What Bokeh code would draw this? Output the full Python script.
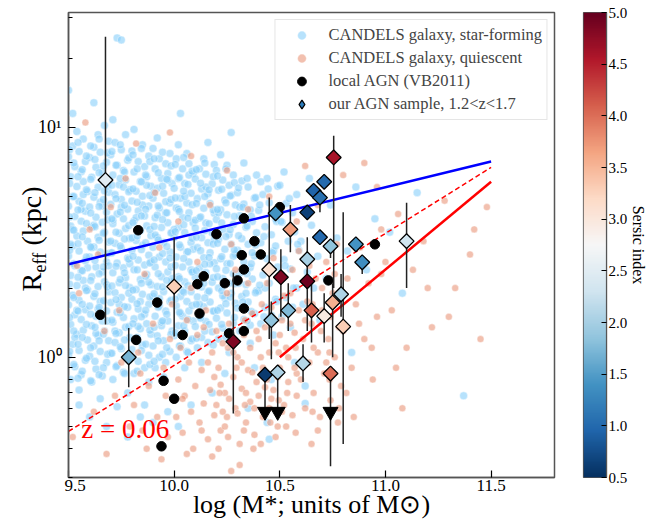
from math import pi
import numpy as np
from bokeh.plotting import figure
from bokeh.layouts import row
from bokeh.models import (ColumnDataSource, Range1d, FixedTicker, PrintfTickFormatter, CustomJSTickFormatter,
                          LinearColorMapper, LinearAxis, Label, Legend, LegendItem)
from bokeh.palettes import interp_palette
from bokeh.core.properties import value
from bokeh.embed import file_html
from bokeh.resources import INLINE

FONT = "Liberation Serif"

# ---------------- data ----------------
# CANDELS star-forming galaxies: (log M*, R_eff [kpc])
sf_points = [
 (9.51,0.80),(9.56,0.84),(9.53,0.91),(9.58,0.97),(9.50,1.02),(9.55,1.07),(9.52,1.14),(9.59,1.19),(9.54,1.26),(9.57,1.31),
 (9.51,1.39),(9.56,1.46),(9.53,1.53),(9.58,1.61),(9.50,1.69),(9.55,1.77),(9.52,1.86),(9.59,1.96),(9.54,2.05),(9.57,2.16),
 (9.51,2.27),(9.56,2.38),(9.53,2.5),(9.58,2.63),(9.50,2.76),(9.55,2.9),(9.52,3.05),(9.59,3.2),(9.54,3.37),(9.57,3.54),
 (9.51,3.72),(9.56,3.91),(9.53,4.1),(9.58,4.32),(9.50,4.54),(9.55,4.77),(9.52,5.0),(9.59,5.26),(9.54,5.53),(9.57,5.81),
 (9.51,6.1),(9.56,6.42),(9.53,6.75),(9.58,7.1),(9.50,7.45),(9.55,7.85),(9.52,8.3),(9.57,8.9),(9.54,9.6),(9.50,14.5),
 (9.53,1.22),(9.58,2.0),(9.51,3.1),(9.56,4.4),(9.54,1.6),(9.59,2.45),(9.52,3.6),(9.57,5.1),(9.55,0.72),(9.52,11.5),
 (9.61,0.78),(9.66,0.83),(9.63,0.89),(9.68,0.95),(9.60,1.01),(9.65,1.06),(9.62,1.12),(9.69,1.18),(9.64,1.24),(9.67,1.3),
 (9.61,1.37),(9.66,1.44),(9.63,1.51),(9.68,1.59),(9.60,1.67),(9.65,1.75),(9.62,1.84),(9.69,1.93),(9.64,2.03),(9.67,2.13),
 (9.61,2.24),(9.66,2.35),(9.63,2.47),(9.68,2.6),(9.60,2.73),(9.65,2.87),(9.62,3.02),(9.69,3.17),(9.64,3.33),(9.67,3.5),
 (9.61,3.68),(9.66,3.87),(9.63,4.07),(9.68,4.28),(9.60,4.5),(9.65,4.73),(9.62,4.97),(9.69,5.22),(9.64,5.49),(9.67,5.77),
 (9.61,6.07),(9.66,6.38),(9.63,6.7),(9.68,7.05),(9.60,7.4),(9.65,7.8),(9.62,8.2),(9.69,8.7),(9.64,9.3),(9.67,10.2),
 (9.63,1.27),(9.68,2.07),(9.61,3.0),(9.66,4.55),(9.64,1.62),(9.69,2.5),(9.62,3.75),(9.67,5.3),(9.65,0.66),(9.62,12.8),
 (9.71,0.8),(9.76,0.86),(9.73,0.92),(9.78,0.98),(9.70,1.04),(9.75,1.09),(9.72,1.16),(9.79,1.22),(9.74,1.28),(9.77,1.35),
 (9.71,1.42),(9.76,1.49),(9.73,1.57),(9.78,1.65),(9.70,1.73),(9.75,1.82),(9.72,1.91),(9.79,2.01),(9.74,2.11),(9.77,2.22),
 (9.71,2.33),(9.76,2.45),(9.73,2.57),(9.78,2.7),(9.70,2.84),(9.75,2.98),(9.72,3.13),(9.79,3.29),(9.74,3.46),(9.77,3.63),
 (9.71,3.81),(9.76,4.0),(9.73,4.2),(9.78,4.41),(9.70,4.63),(9.75,4.86),(9.72,5.1),(9.79,5.36),(9.74,5.63),(9.77,5.91),
 (9.71,6.2),(9.76,6.5),(9.73,6.85),(9.78,7.2),(9.70,7.6),(9.75,8.0),(9.72,8.6),(9.77,9.3),(9.73,24.5),(9.75,24.0),
 (9.72,1.3),(9.77,2.05),(9.70,3.2),(9.75,4.5),(9.74,1.7),(9.79,2.55),(9.71,3.95),(9.76,5.5),(9.78,0.7),(9.71,10.8),
 (9.81,0.85),(9.86,0.9),(9.83,0.96),(9.88,1.02),(9.80,1.08),(9.85,1.13),(9.82,1.2),(9.89,1.26),(9.84,1.33),(9.87,1.4),
 (9.81,1.47),(9.86,1.54),(9.83,1.62),(9.88,1.7),(9.80,1.79),(9.85,1.88),(9.82,1.97),(9.89,2.07),(9.84,2.18),(9.87,2.29),
 (9.81,2.4),(9.86,2.52),(9.83,2.65),(9.88,2.78),(9.80,2.92),(9.85,3.07),(9.82,3.22),(9.89,3.38),(9.84,3.55),(9.87,3.73),
 (9.81,3.92),(9.86,4.12),(9.83,4.33),(9.88,4.55),(9.80,4.78),(9.85,5.02),(9.82,5.27),(9.89,5.54),(9.84,5.82),(9.87,6.1),
 (9.81,6.4),(9.86,6.75),(9.83,7.1),(9.88,7.5),(9.80,7.9),(9.85,8.4),(9.83,1.36),(9.88,2.12),(9.80,3.3),(9.85,4.6),
 (9.84,1.75),(9.89,2.6),(9.82,4.05),(9.87,5.6),(9.86,0.62),(9.81,9.8),(9.88,0.78),(9.84,0.55),
 (9.91,0.9),(9.96,0.95),(9.93,1.0),(9.98,1.06),(9.90,1.12),(9.95,1.18),(9.92,1.24),(9.99,1.3),(9.94,1.37),(9.97,1.44),
 (9.91,1.51),(9.96,1.59),(9.93,1.67),(9.98,1.75),(9.90,1.84),(9.95,1.93),(9.92,2.03),(9.99,2.13),(9.94,2.24),(9.97,2.35),
 (9.91,2.47),(9.96,2.6),(9.93,2.73),(9.98,2.87),(9.90,3.01),(9.95,3.16),(9.92,3.32),(9.99,3.49),(9.94,3.67),(9.97,3.85),
 (9.91,4.05),(9.96,4.25),(9.93,4.46),(9.98,4.69),(9.90,4.92),(9.95,5.17),(9.92,5.43),(9.99,5.7),(9.94,6.0),(9.97,6.3),
 (9.91,6.6),(9.96,6.95),(9.93,7.3),(9.98,7.7),(9.90,8.1),(9.94,1.42),(9.99,2.2),(9.91,3.4),(9.96,4.75),(9.93,1.8),
 (9.98,2.7),(9.92,4.15),(9.97,5.9),(9.95,0.82),(9.92,9.0),(9.97,0.58),
 (10.01,1.0),(10.06,1.06),(10.03,1.12),(10.08,1.18),(10.00,1.24),(10.05,1.3),(10.02,1.37),(10.09,1.44),(10.04,1.51),(10.07,1.59),
 (10.01,1.67),(10.06,1.75),(10.03,1.84),(10.08,1.93),(10.00,2.03),(10.05,2.13),(10.02,2.24),(10.09,2.35),(10.04,2.47),(10.07,2.6),
 (10.01,2.73),(10.06,2.87),(10.03,3.01),(10.08,3.16),(10.00,3.32),(10.05,3.49),(10.02,3.67),(10.09,3.85),(10.04,4.05),(10.07,4.25),
 (10.01,4.46),(10.06,4.69),(10.03,4.92),(10.08,5.17),(10.00,5.43),(10.05,5.7),(10.02,6.0),(10.09,6.3),(10.04,6.6),(10.07,6.95),
 (10.01,7.3),(10.06,7.7),(10.03,1.55),(10.08,2.4),(10.00,3.6),(10.05,5.0),(10.04,1.95),(10.09,2.95),(10.02,4.4),(10.07,6.2),
 (10.05,0.9),(10.02,8.4),(10.08,0.62),(10.03,11.5),
 (10.11,1.1),(10.16,1.16),(10.13,1.22),(10.18,1.29),(10.10,1.36),(10.15,1.43),(10.12,1.5),(10.19,1.58),(10.14,1.66),(10.17,1.74),
 (10.11,1.83),(10.16,1.92),(10.13,2.02),(10.18,2.12),(10.10,2.23),(10.15,2.34),(10.12,2.46),(10.19,2.58),(10.14,2.71),(10.17,2.85),
 (10.11,3.0),(10.16,3.15),(10.13,3.31),(10.18,3.48),(10.10,3.65),(10.15,3.84),(10.12,4.03),(10.19,4.23),(10.14,4.45),(10.17,4.67),
 (10.11,4.9),(10.16,5.15),(10.13,5.4),(10.18,5.68),(10.10,5.96),(10.15,6.26),(10.12,6.6),(10.19,6.9),(10.14,7.3),(10.12,1.7),
 (10.17,2.55),(10.10,3.95),(10.15,5.5),(10.14,2.1),(10.19,3.25),(10.13,0.95),(10.18,0.7),(10.16,8.6),
 (10.21,1.2),(10.26,1.27),(10.23,1.34),(10.28,1.41),(10.20,1.48),(10.25,1.56),(10.22,1.64),(10.29,1.72),(10.24,1.81),(10.27,1.9),
 (10.21,2.0),(10.26,2.1),(10.23,2.2),(10.28,2.31),(10.20,2.43),(10.25,2.55),(10.22,2.68),(10.29,2.81),(10.24,2.95),(10.27,3.1),
 (10.21,3.26),(10.26,3.42),(10.23,3.6),(10.28,3.78),(10.20,3.97),(10.25,4.17),(10.22,4.38),(10.29,4.6),(10.24,4.83),(10.27,5.07),
 (10.21,5.33),(10.26,5.6),(10.23,5.9),(10.28,6.2),(10.20,6.5),(10.25,6.85),(10.23,1.85),(10.28,2.75),(10.21,4.25),(10.26,1.05),
 (10.24,0.85),(10.22,7.6),(10.27,9.5),
 (10.31,1.3),(10.36,1.38),(10.33,1.46),(10.38,1.55),(10.30,1.64),(10.35,1.74),(10.32,1.84),(10.39,1.95),(10.34,2.07),(10.37,2.19),
 (10.31,2.32),(10.36,2.46),(10.33,2.6),(10.38,2.76),(10.30,2.92),(10.35,3.1),(10.32,3.28),(10.39,3.48),(10.34,3.68),(10.37,3.9),
 (10.31,4.13),(10.36,4.38),(10.33,4.64),(10.38,4.92),(10.30,5.2),(10.35,5.5),(10.32,5.85),(10.39,6.2),(10.34,1.9),(10.37,2.85),
 (10.31,4.5),(10.36,1.15),(10.33,7.0),(10.38,0.9),
 (10.41,1.4),(10.46,1.52),(10.43,1.65),(10.48,1.79),(10.40,1.94),(10.45,2.1),(10.42,2.28),(10.49,2.47),(10.44,2.68),(10.47,2.9),
 (10.41,3.15),(10.46,3.41),(10.43,3.7),(10.48,4.0),(10.40,4.35),(10.45,4.7),(10.42,5.1),(10.49,5.55),(10.44,6.0),(10.47,1.25),
 (10.43,2.0),(10.48,3.05),(10.41,5.8),(10.46,0.8),(10.44,0.52),
 (10.51,1.5),(10.56,1.65),(10.53,1.82),(10.58,2.0),(10.50,2.2),(10.55,2.42),(10.52,2.66),(10.59,2.92),(10.54,3.2),(10.57,3.52),
 (10.51,3.87),(10.56,4.25),(10.53,4.67),(10.58,5.1),(10.50,5.6),(10.55,1.35),(10.52,6.4),(10.57,0.95),
 (10.61,1.7),(10.66,2.0),(10.63,2.35),(10.68,2.75),(10.60,3.2),(10.65,3.75),(10.62,4.4),(10.67,5.1),(10.64,6.0),(10.69,1.45),(10.62,0.75),
 (10.72,2.2),(10.77,3.3),(10.74,4.6),(10.79,1.8),(10.82,2.9),(10.86,5.5),(10.91,2.4),(10.95,4.0),(11.02,3.5),(11.08,1.9),
 (11.15,5.2),(11.37,0.68),(10.84,1.05),
 (9.60,0.55),(9.68,0.5),(9.78,0.45),(9.90,0.52),(10.02,0.5),(10.45,0.44),(10.35,0.6),(10.62,0.63),(9.73,0.61),(9.55,0.62),
]
sf_points_more = [
 (9.545,8.6),(9.505,8.0),(9.585,7.5),(9.525,7.0),(9.565,6.55),(9.545,6.1),(9.505,5.7),(9.585,5.35),(9.525,5.0),(9.565,4.68),
 (9.545,4.37),(9.505,4.08),(9.585,3.82),(9.525,3.57),(9.565,3.34),(9.545,3.12),(9.505,2.92),(9.585,2.73),(9.525,2.55),(9.565,2.38),
 (9.545,2.23),(9.505,2.08),(9.585,1.95),(9.525,1.82),(9.565,1.7),(9.545,1.59),(9.505,1.49),(9.585,1.39),(9.525,1.3),(9.565,1.22),
 (9.545,1.14),(9.505,1.06),(9.585,0.99),(9.525,0.93),(9.565,0.87),(9.545,0.81),
 (9.645,8.9),(9.605,8.3),(9.685,7.75),(9.625,7.25),(9.665,6.8),(9.645,6.35),(9.605,5.95),(9.685,5.55),(9.625,5.2),(9.665,4.85),
 (9.645,4.53),(9.605,4.24),(9.685,3.96),(9.625,3.7),(9.665,3.46),(9.645,3.23),(9.605,3.02),(9.685,2.82),(9.625,2.64),(9.665,2.47),
 (9.645,2.31),(9.605,2.16),(9.685,2.02),(9.625,1.89),(9.665,1.76),(9.645,1.65),(9.605,1.54),(9.685,1.44),(9.625,1.35),(9.665,1.26),
 (9.645,1.18),(9.605,1.1),(9.685,1.03),(9.625,0.96),(9.665,0.9),(9.645,0.84),(9.605,0.79),
 (9.745,8.4),(9.705,7.85),(9.785,7.35),(9.725,6.85),(9.765,6.4),(9.745,6.0),(9.705,5.6),(9.785,5.25),(9.725,4.9),(9.765,4.58),
 (9.745,4.28),(9.705,4.0),(9.785,3.74),(9.725,3.5),(9.765,3.27),(9.745,3.05),(9.705,2.85),(9.785,2.67),(9.725,2.49),(9.765,2.33),
 (9.745,2.18),(9.705,2.04),(9.785,1.9),(9.725,1.78),(9.765,1.66),(9.745,1.56),(9.705,1.45),(9.785,1.36),(9.725,1.27),(9.765,1.19),
 (9.745,1.11),(9.705,1.04),(9.785,0.97),(9.725,0.91),(9.765,0.85),
 (9.845,8.1),(9.805,7.6),(9.885,7.1),(9.825,6.6),(9.865,6.2),(9.845,5.8),(9.805,5.4),(9.885,5.05),(9.825,4.72),(9.865,4.41),
 (9.845,4.12),(9.805,3.85),(9.885,3.6),(9.825,3.37),(9.865,3.15),(9.845,2.94),(9.805,2.75),(9.885,2.57),(9.825,2.4),(9.865,2.25),
 (9.845,2.1),(9.805,1.96),(9.885,1.83),(9.825,1.71),(9.865,1.6),(9.845,1.5),(9.805,1.4),(9.885,1.31),(9.825,1.22),(9.865,1.14),
 (9.845,1.07),(9.805,1.0),(9.885,0.93),(9.825,0.87),
 (9.945,7.8),(9.905,7.3),(9.985,6.8),(9.925,6.35),(9.965,5.95),(9.945,5.55),(9.905,5.2),(9.985,4.85),(9.925,4.55),(9.965,4.25),
 (9.945,3.97),(9.905,3.71),(9.985,3.47),(9.925,3.24),(9.965,3.03),(9.945,2.83),(9.905,2.65),(9.985,2.47),(9.925,2.31),(9.965,2.16),
 (9.945,2.02),(9.905,1.89),(9.985,1.77),(9.925,1.65),(9.965,1.54),(9.945,1.44),(9.905,1.35),(9.985,1.26),(9.925,1.18),(9.965,1.1),
 (9.945,1.03),(9.905,0.96),
 (10.045,7.4),(10.005,6.9),(10.085,6.45),(10.025,6.05),(10.065,5.65),(10.045,5.28),(10.005,4.93),(10.085,4.61),(10.025,4.31),(10.065,4.03),
 (10.045,3.77),(10.005,3.52),(10.085,3.29),(10.025,3.08),(10.065,2.88),(10.045,2.69),(10.005,2.51),(10.085,2.35),(10.025,2.2),(10.065,2.05),
 (10.045,1.92),(10.005,1.79),(10.085,1.68),(10.025,1.57),(10.065,1.46),(10.045,1.37),(10.005,1.28),(10.085,1.2),(10.025,1.12),(10.065,1.05),
 (10.145,7.0),(10.105,6.55),(10.185,6.1),(10.125,5.72),(10.165,5.35),(10.145,5.0),(10.105,4.67),(10.185,4.37),(10.125,4.08),(10.165,3.81),
 (10.145,3.56),(10.105,3.33),(10.185,3.11),(10.125,2.91),(10.165,2.72),(10.145,2.54),(10.105,2.38),(10.185,2.22),(10.125,2.08),(10.165,1.94),
 (10.145,1.81),(10.105,1.7),(10.185,1.59),(10.125,1.48),(10.165,1.39),(10.145,1.3),(10.105,1.21),(10.185,1.13),
 (10.245,6.6),(10.205,6.15),(10.285,5.75),(10.225,5.38),(10.265,5.03),(10.245,4.7),(10.205,4.39),(10.285,4.1),(10.225,3.84),(10.265,3.59),
 (10.245,3.35),(10.205,3.13),(10.285,2.93),(10.225,2.74),(10.265,2.56),(10.245,2.39),(10.205,2.24),(10.285,2.09),(10.225,1.95),(10.265,1.83),
 (10.245,1.71),(10.205,1.6),(10.285,1.49),(10.225,1.39),(10.265,1.3),(10.245,1.22),
 (10.345,6.0),(10.305,5.45),(10.385,4.95),(10.325,4.5),(10.365,4.1),(10.345,3.72),(10.305,3.38),(10.385,3.08),(10.325,2.8),(10.365,2.55),
 (10.345,2.31),(10.305,2.1),(10.385,1.91),(10.325,1.74),(10.365,1.58),(10.345,1.44),
 (10.445,5.4),(10.405,4.6),(10.485,3.9),(10.425,3.35),(10.465,2.85),(10.445,2.42),(10.405,2.06),(10.485,1.75),(10.425,1.5),
 (10.545,4.9),(10.505,3.9),(10.585,3.1),(10.525,2.5),(10.565,2.0),(10.545,1.6),
]

# CANDELS quiescent galaxies: (log M*, R_eff [kpc])
q_points = [
 (9.52,0.45),(9.55,1.9),(9.58,10.5),(9.62,0.58),(9.64,2.8),(9.67,1.3),(9.70,4.5),(9.72,0.68),(9.75,0.95),(9.77,6.0),
 (9.79,0.5),(9.60,3.6),(9.68,0.38),(9.54,2.5),(9.74,1.6),
 (9.81,0.62),(9.83,1.05),(9.85,0.48),(9.86,2.3),(9.88,0.75),(9.90,1.4),(9.92,0.55),(9.93,3.0),(9.95,0.9),(9.97,0.45),
 (9.98,1.2),(9.84,0.85),(9.91,5.2),(9.96,0.68),(9.99,1.7),(9.87,0.4),(9.94,0.36),(9.82,8.5),
 (10.01,0.55),(10.02,0.8),(10.03,1.1),(10.04,0.47),(10.05,0.68),(10.06,1.45),(10.07,0.95),(10.08,0.58),(10.09,0.4),(10.10,0.75),
 (10.11,1.25),(10.12,0.52),(10.13,0.88),(10.14,0.63),(10.15,1.6),(10.16,0.44),(10.17,0.72),(10.18,1.05),(10.19,0.56),(10.11,2.6),
 (10.02,3.9),(10.16,0.95),(10.06,0.38),(10.19,0.82),(10.13,0.48),(10.08,2.0),(10.17,4.6),(10.04,0.66),(10.14,1.35),(10.18,0.37),
 (10.20,0.62),(10.21,0.9),(10.22,0.48),(10.23,1.15),(10.24,0.7),(10.25,0.55),(10.26,1.4),(10.27,0.32),(10.28,0.82),(10.29,0.6),
 (10.30,1.0),(10.31,0.42),(10.32,0.73),(10.33,1.25),(10.34,0.52),(10.35,0.88),(10.36,0.64),(10.37,1.55),(10.38,0.46),(10.39,0.78),
 (10.20,1.3),(10.22,0.76),(10.24,0.5),(10.26,0.66),(10.28,1.05),(10.30,0.57),(10.32,0.95),(10.34,0.7),(10.36,1.1),(10.38,0.6),
 (10.21,0.4),(10.25,1.9),(10.29,2.4),(10.33,0.48),(10.35,2.1),(10.37,0.86),(10.39,1.3),(10.23,0.58),(10.31,0.34),(10.27,3.1),
 (10.40,0.68),(10.41,1.0),(10.42,0.55),(10.43,1.35),(10.44,0.8),(10.45,0.6),(10.46,1.65),(10.47,0.72),(10.48,1.15),(10.49,0.5),
 (10.50,0.9),(10.51,1.45),(10.52,0.62),(10.53,1.1),(10.54,0.78),(10.55,1.9),(10.56,0.56),(10.57,1.28),(10.58,0.85),(10.59,1.6),
 (10.40,1.2),(10.42,0.9),(10.44,2.1),(10.46,0.66),(10.48,0.45),(10.50,1.25),(10.52,1.85),(10.54,1.0),(10.56,2.4),(10.58,0.68),
 (10.41,0.42),(10.43,0.74),(10.45,1.05),(10.47,2.7),(10.49,0.82),(10.51,0.58),(10.53,0.5),(10.55,1.4),(10.57,0.9),(10.59,2.9),
 (10.60,0.8),(10.61,1.2),(10.62,0.6),(10.63,1.75),(10.64,0.95),(10.65,1.4),(10.66,0.7),(10.67,2.2),(10.68,1.05),(10.69,0.55),
 (10.70,1.6),(10.71,0.85),(10.72,2.6),(10.73,1.2),(10.74,0.65),(10.75,1.9),(10.76,1.0),(10.77,3.1),(10.78,1.35),(10.79,0.75),
 (10.62,1.45),(10.64,2.5),(10.66,1.1),(10.68,0.48),(10.70,2.0),(10.72,0.95),(10.74,1.5),(10.76,2.3),(10.78,0.6),(10.65,0.42),
 (10.80,1.3),(10.82,2.2),(10.84,0.9),(10.86,1.7),(10.88,3.0),(10.90,1.2),(10.92,2.1),(10.94,0.8),(10.96,1.5),(10.98,3.6),
 (11.00,2.6),(11.03,1.6),(11.06,4.2),(11.10,1.1),(11.13,2.4),(11.18,3.2),(11.22,1.35),(11.28,4.8),(11.33,2.0),(11.40,2.8),
 (11.48,4.5),(11.45,1.2),(10.85,0.55),(11.08,0.6),(10.96,5.5),
 (10.35,4.4),(10.45,5.0),(10.58,3.9),(10.68,4.6),(10.80,6.2),(10.62,6.8),(10.90,7.0),(10.25,6.5),(10.08,7.5),(9.98,9.5),
 (10.215,0.7),(10.255,0.45),(10.295,0.9),(10.335,0.62),(10.375,0.4),(10.415,0.85),(10.455,0.52),(10.495,1.05),(10.535,0.7),(10.575,0.47),
 (10.615,0.95),(10.655,0.58),(10.695,1.3),(10.735,0.8),(10.775,0.52),(10.255,1.1),(10.335,1.45),(10.415,1.7),(10.495,0.65),(10.575,1.1),
 (10.655,1.7),(10.735,1.05),(10.815,0.7),(10.875,1.4),(10.935,1.1),(11.05,0.9),(11.20,2.0),(11.30,1.5),(11.42,3.6),(10.98,2.3),
]

# local AGN (VB2011)
local_mass = [9.65, 9.83, 9.82, 9.92, 9.95, 10.00, 10.04, 10.11, 10.14, 10.12, 10.20, 10.24, 10.30, 10.26, 9.94,
              10.50, 10.33, 10.38, 10.32, 10.41, 10.33, 10.73, 10.95, 10.33, 10.33]
local_reff = [1.53, 3.57, 1.19, 1.73, 0.79, 0.66, 1.25, 2.08, 2.25, 1.55, 3.43, 2.10, 2.16, 1.27, 0.41,
              4.50, 4.02, 3.20, 2.78, 2.80, 2.41, 2.16, 3.10, 1.63, 1.30]

# our AGN sample, 1.2<z<1.7
agn_mass = [9.675, 9.785, 10.00, 10.28, 10.755, 10.71, 10.66, 10.69, 10.63, 10.48,
            10.55, 10.69, 10.74, 10.86, 10.89, 11.10, 10.45, 10.505, 10.63, 10.63,
            10.79, 10.46, 10.54, 10.65, 10.71, 10.75, 10.80, 10.43, 10.49, 10.61, 10.74]
agn_reff = [5.9, 1.0, 2.03, 1.17, 7.4, 5.8, 5.3, 4.95, 4.27, 4.23,
            3.6, 3.33, 3.04, 3.1, 2.59, 3.2, 2.41, 2.23, 2.67, 2.14,
            1.88, 1.45, 1.6, 1.6, 1.51, 1.73, 1.36, 0.84, 0.86, 0.94, 0.85]
agn_sersic = [2.5, 1.7, 3.3, 4.85, 4.6, 1.0, 0.95, 1.05, 0.65, 1.4,
              3.7, 1.0, 1.85, 1.4, 1.35, 2.3, 3.1, 4.85, 2.0, 4.95,
              2.05, 1.85, 1.75, 4.1, 2.95, 3.55, 3.3, 0.6, 2.05, 2.1, 4.0]
agn_err_lo = [1.39, 0.74, 1.23, 0.57, 2.0, 5.8, 5.3, 4.27, 4.27, 4.23,
              2.86, 3.33, 2.7, 3.1, 2.3, 2.0, 1.2, 1.5, 2.03, 1.3,
              1.5, 0.98, 1.3, 1.16, 1.16, 1.0, 0.42, 0.58, 0.58, 0.78, 0.336]
agn_err_hi = [24.8, 1.34, 3.32, 2.34, 9.2, 5.8, 5.3, 4.95, 4.27, 4.23,
              4.6, 3.33, 3.04, 3.1, 2.75, 4.7, 4.96, 2.95, 3.33, 2.4,
              2.3, 1.75, 2.1, 2.1, 1.9, 2.1, 4.27, 0.84, 0.86, 1.14, 0.85]

# upper limits of the sample
lim_mass = [10.43, 10.49, 10.74]
lim_reff = [0.58, 0.58, 0.58]

# size-mass relations
fit_sf_mass, fit_sf_reff = [9.5, 11.5], [2.54, 7.1]
fit_q_mass, fit_q_reff = [10.5, 11.5], [1.0, 5.8]
fit_local_mass, fit_local_reff = [9.5, 11.5], [0.476, 6.7]

x_ticks = [9.5, 10.0, 10.5, 11.0, 11.5]
y_ticks = [1, 10]
y_tick_labels = ["10\u2070", "10\u00b9"]
y_minor = [0.3, 0.4, 0.5, 0.6, 0.7, 0.8, 0.9, 2, 3, 4, 5, 6, 7, 8, 9, 20, 30]
cb_ticks = [0.5, 1.0, 1.5, 2.0, 2.5, 3.0, 3.5, 4.0, 4.5, 5.0]
sersic_low, sersic_high = 0.5, 5.0
rdbu = ['#053061', '#2166ac', '#4393c3', '#92c5de', '#d1e5f0', '#f7f7f7',
        '#fddbc7', '#f4a582', '#d6604d', '#b2182b', '#67001f']

# ---------------- layout constants ----------------
H = 525
TOP, BOTTOM = 12, 48
y_range = Range1d(0.3, 31.6)


def bare(fig):
    fig.outline_line_color = None
    fig.grid.visible = False
    fig.background_fill_color = "white"
    fig.border_fill_color = "white"


# ---------------- main figure ----------------
p = figure(width=492, height=H, x_range=Range1d(9.5, 11.8), y_range=y_range,
           y_axis_type="log", output_backend="svg", toolbar_location=None,
           min_border_left=4, min_border_right=2, min_border_top=TOP, min_border_bottom=BOTTOM)
p.grid.visible = False
p.outline_line_color = "#555555"
p.outline_line_width = 1.5
p.border_fill_color = "white"

for ax in (p.xaxis[0], p.yaxis[0]):
    ax.axis_line_color = "#555555"
    ax.axis_line_width = 1.5
    ax.major_tick_in = 7
    ax.major_tick_out = 0
    ax.minor_tick_in = 4
    ax.minor_tick_out = 0
    ax.major_tick_line_color = "black"
    ax.minor_tick_line_color = "black"
    ax.major_tick_line_width = 1.2
    ax.minor_tick_line_width = 1.0
    ax.major_label_text_font = FONT
    ax.major_label_text_color = "black"

xa = p.xaxis[0]
xa.ticker = FixedTicker(ticks=x_ticks)
xa.formatter = PrintfTickFormatter(format="%.1f")
xa.major_label_text_font_size = "17px"
xa.major_label_standoff = 2
xa.axis_label = "log (M*; units of M\u2299)"
xa.axis_label_text_font = FONT
xa.axis_label_text_font_size = "26px"
xa.axis_label_text_font_style = "normal"
xa.axis_label_text_color = "black"
xa.axis_label_standoff = -4

# y tick labels are drawn in the strip on the left (same log scale); keep the axis for ticks
ya = p.yaxis[0]
ya.ticker = FixedTicker(ticks=y_ticks, minor_ticks=y_minor)
ya.formatter = CustomJSTickFormatter(code="return '';")
ya.major_label_text_font_size = "2px"
ya.major_label_standoff = 0

sf_all = sf_points + sf_points_more
sf_src = ColumnDataSource(dict(m=[a for a, b in sf_all], r=[b for a, b in sf_all]))
q_src = ColumnDataSource(dict(m=[a for a, b in q_points], r=[b for a, b in q_points]))

r_sf = p.scatter("m", "r", source=sf_src, size=8, fill_color="#87cefa", fill_alpha=0.6,
                 line_color="white", line_alpha=0.7, line_width=0.6)
r_q = p.scatter("m", "r", source=q_src, size=7, fill_color="#e9967a", fill_alpha=0.6,
                line_color="white", line_alpha=0.7, line_width=0.6)

p.line(fit_sf_mass, fit_sf_reff, line_color="blue", line_width=2.5)
p.line(fit_q_mass, fit_q_reff, line_color="red", line_width=2.5)
p.line(fit_local_mass, fit_local_reff, line_color="red", line_width=1.5, line_dash="5 3")

r_loc = p.scatter(local_mass, local_reff, size=9.5, fill_color="black", line_color="black")

agn_src = ColumnDataSource(dict(m=agn_mass, r=agn_reff, n=agn_sersic, lo=agn_err_lo, hi=agn_err_hi))
p.segment(x0="m", y0="lo", x1="m", y1="hi", source=agn_src, line_color="#222222", line_width=1.5)

mapper = LinearColorMapper(palette=interp_palette(rdbu, 256), low=sersic_low, high=sersic_high)
r_agn = p.scatter("m", "r", source=agn_src, marker="square", angle=pi / 4, size=10.5,
                  fill_color={"field": "n", "transform": mapper}, line_color="black", line_width=1.3)
p.scatter(lim_mass, lim_reff, marker="inverted_triangle", size=15, fill_color="black", line_color="black")

# legend-only glyph for the AGN sample (size 0 on the plot; the legend sizes it itself)
r_agn_leg = p.scatter(x=agn_mass[:1], y=agn_reff[:1], marker="diamond", size=0, fill_color="#2b7bba",
                      line_color="black", line_width=1.3)

p.add_layout(Label(x=9.56, y=0.49, text="z = 0.06", text_color="red", text_font=FONT,
                   text_font_size="27px", text_baseline="middle"))

legend = Legend(items=[
    LegendItem(label="CANDELS galaxy, star-forming", renderers=[r_sf]),
    LegendItem(label="CANDELS galaxy, quiescent", renderers=[r_q]),
    LegendItem(label="local AGN (VB2011)", renderers=[r_loc]),
    LegendItem(label="our AGN sample, 1.2<z<1.7", renderers=[r_agn_leg]),
], location="top_right")
legend.margin = 7
legend.padding = 4
legend.spacing = 1
legend.glyph_width = 44
legend.glyph_height = 22
legend.label_height = 22
legend.label_standoff = 5
legend.label_text_font = FONT
legend.label_text_font_size = "16.5px"
legend.border_line_color = "#cccccc"
legend.background_fill_alpha = 0.8
p.add_layout(legend)

# ---------------- y label strip (tick labels + title) ----------------
ylab = figure(width=64, height=H, x_range=Range1d(0, 64), y_range=y_range, y_axis_type="log",
              x_axis_location=None, y_axis_location=None, output_backend="svg", toolbar_location=None,
              min_border_left=0, min_border_right=0, min_border_top=TOP, min_border_bottom=BOTTOM)
bare(ylab)
ylab.text(x=61, y=y_ticks, text=y_tick_labels, text_font=value(FONT), text_font_size="18px",
          text_align="right", text_baseline="middle", text_color="black")
lab = dict(x_units="screen", y_units="screen", text_font=FONT, text_color="black", angle=pi / 2)
ylab.add_layout(Label(x=46, y=186, text="R", text_font_size="28px", **lab))
ylab.add_layout(Label(x=49, y=205, text="eff", text_font_size="18px", **lab))
ylab.add_layout(Label(x=46, y=232, text="(kpc)", text_font_size="28px", **lab))

# ---------------- colour bar strip ----------------
cbf = figure(width=94, height=H, x_range=Range1d(0, 1), y_range=Range1d(sersic_low, sersic_high),
             x_axis_location=None, y_axis_location=None, output_backend="svg", toolbar_location=None,
             min_border_left=27, min_border_right=43, min_border_top=TOP, min_border_bottom=BOTTOM)
cbf.grid.visible = False
cbf.outline_line_color = "#555555"
cbf.outline_line_width = 1.2
cbf.border_fill_color = "white"
gradient = np.linspace(sersic_low, sersic_high, 256).reshape(256, 1)
cbf.image(image=[gradient], x=0, y=sersic_low, dw=1, dh=sersic_high - sersic_low, color_mapper=mapper)
cax = LinearAxis(ticker=FixedTicker(ticks=cb_ticks), formatter=PrintfTickFormatter(format="%.1f"))
cax.axis_line_color = "#555555"
cax.axis_line_width = 1.2
cax.major_tick_in = 5
cax.major_tick_out = 0
cax.minor_tick_line_color = None
cax.major_tick_line_color = "black"
cax.major_label_standoff = 2
cax.major_label_text_font = FONT
cax.major_label_text_font_size = "15px"
cax.major_label_text_color = "black"
cax.axis_label = "Sersic index"
cax.axis_label_text_font = FONT
cax.axis_label_text_font_size = "16px"
cax.axis_label_text_font_style = "normal"
cax.axis_label_text_color = "black"
cax.axis_label_standoff = 0
cbf.add_layout(cax, "right")

layout = row(ylab, p, cbf, spacing=0)

with open("out.html", "w", encoding="utf-8") as f:
    f.write(file_html(layout, INLINE))
